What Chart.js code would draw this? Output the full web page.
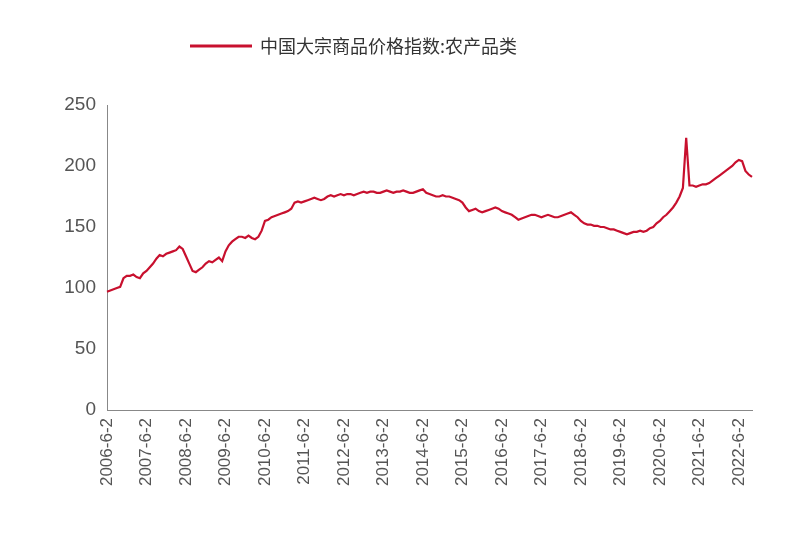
<!DOCTYPE html>
<html><head><meta charset="utf-8">
<script src="https://cdn.jsdelivr.net/npm/chart.js@4"></script>
<style>body{margin:0;background:#fff}#wrap{width:810px;height:551px}</style>
</head><body><div id="wrap"><canvas id="c"></canvas></div>
<script>
var seriesName = '中国大宗商品价格指数:农产品类';
var startYear = 2006, startMonth = 6;
var values = [
 97,98,99,100,101,108,110,
 110,111,109,108,112,114,117,120,124,127,126,128,
 129,130,131,134,132,126,120,114,113,115,117,120,
 122,121,123,125,122,130,135,138,140,142,142,141,
 143,141,140,142,147,155,156,158,159,160,161,162,
 163,165,170,171,170,171,172,173,174,173,172,173,
 175,176,175,176,177,176,177,177,176,177,178,179,
 178,179,179,178,178,179,180,179,178,179,179,180,
 179,178,178,179,180,181,178,177,176,175,175,176,
 175,175,174,173,172,170,166,163,164,165,163,162,
 163,164,165,166,165,163,162,161,160,158,156,157,
 158,159,160,160,159,158,159,160,159,158,158,159,
 160,161,162,160,158,155,153,152,152,151,151,150,
 150,149,148,148,147,146,145,144,145,146,146,147,
 146,147,149,150,153,155,158,160,163,166,170,175,
 182,223,184,184,183,184,185,185,186,188,190,192,
 194,196,198,200,203,205,204,196,193,191
];
var labels = [];
for (var i=0;i<values.length;i++){
    var m = (startMonth-1+i)%12+1;
    var y = startYear + Math.floor((startMonth-1+i)/12);
    labels.push(y+'-'+m+'-2');
}
var yTicks = [0,50,100,150,200,250];
var lineColor = '#c8102e';

// legend drawn above the plot
var topLegend = {
    id: 'topLegend',
    afterDraw: function(chart){
        var ctx = chart.ctx;
        ctx.save();
        ctx.strokeStyle = lineColor;
        ctx.lineWidth = 3;
        ctx.beginPath(); ctx.moveTo(190, 46); ctx.lineTo(252, 46); ctx.stroke();
        ctx.fillStyle = '#333';
        ctx.font = '18px "Noto Sans CJK SC"';
        ctx.textBaseline = 'middle';
        ctx.fillText(seriesName, 260, 46);
        ctx.restore();
    }
};

new Chart(document.getElementById('c'), {
    type: 'line',
    data: { labels: labels, datasets: [{
        label: seriesName, data: values,
        borderColor: lineColor, borderWidth: 2.2, pointRadius: 0, tension: 0
    }]},
    plugins: [topLegend],
    options: {
        responsive: true, maintainAspectRatio: false, animation: false,
        layout: { padding: { left: 20, right: 58, top: 105, bottom: 5 } },
        plugins: { legend: { display: false }, tooltip: { enabled: false } },
        scales: {
            x: {
                afterFit: function(s){ s.height = 136; },
                grid: { display: false, drawTicks: true, tickLength: 5, color: '#888' },
                border: { color: '#888' },
                ticks: {
                    autoSkip: false, maxRotation: 90, minRotation: 90,
                    font: { size: 17, family: 'Liberation Sans' }, color: '#555',
                    callback: function(v, i){ return labels[i].split('-')[1]==='6' ? labels[i] : null; }
                }
            },
            y: {
                min: 0, max: 250,
                afterFit: function(s){ s.width = 87; },
                afterBuildTicks: function(s){ s.ticks = yTicks.map(function(v){return {value:v};}); },
                grid: { display: false, drawTicks: true, tickLength: 5 },
                border: { color: '#888' },
                ticks: { font: { size: 19, family: 'Liberation Sans' }, color: '#555', padding: 6 }
            }
        }
    }
});
</script></body></html>
